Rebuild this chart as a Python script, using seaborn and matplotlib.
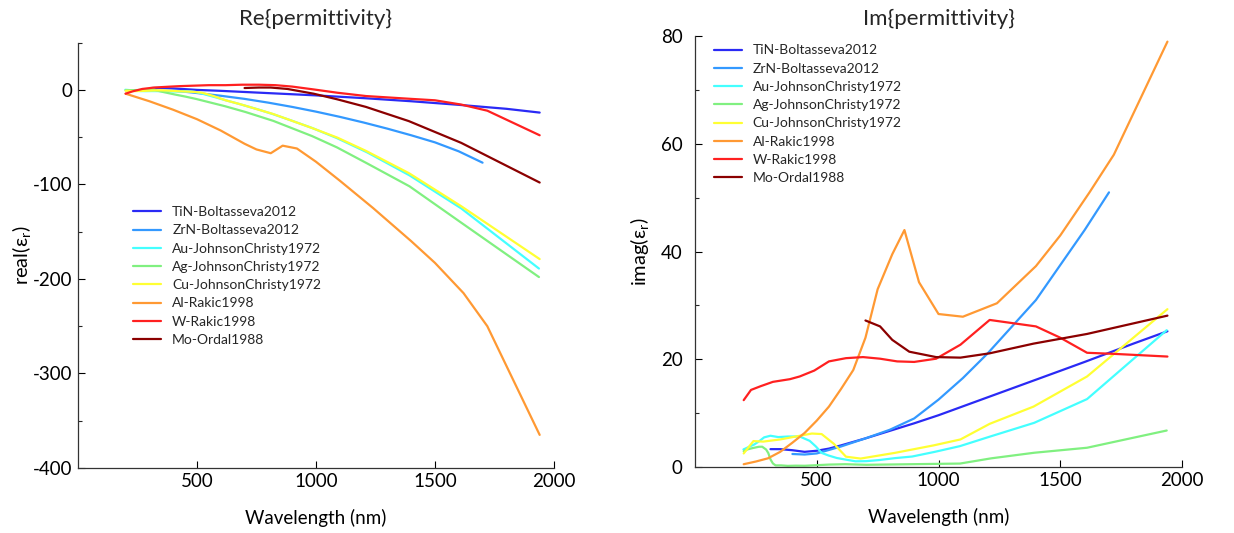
import numpy as np
import pandas as pd
import seaborn as sns
import matplotlib.pyplot as plt
from matplotlib.ticker import MultipleLocator

materials = ["TiN-Boltasseva2012", "ZrN-Boltasseva2012", "Au-JohnsonChristy1972",
             "Ag-JohnsonChristy1972", "Cu-JohnsonChristy1972", "Al-Rakic1998",
             "W-Rakic1998", "Mo-Ordal1988"]
colors = ["#2a2af5", "#3399ff", "#44ffff", "#80f080", "#ffff33", "#ff9933", "#ff2020", "#8b0000"]

# wavelength (nm), real and imaginary permittivity
tin_wl = [310, 350, 400, 450, 500, 550, 600, 700, 800, 900, 1000, 1200, 1400, 1600, 1800, 1940]
tin_re = [2, 2, 1.5, 0.8, 0, -0.5, -1, -2.2, -3.4, -4.6, -5.8, -8.7, -12, -15.8, -20, -24]
tin_im = [3.3, 3.3, 3.1, 2.8, 3.0, 3.4, 4.0, 5.3, 6.7, 8.1, 9.6, 12.9, 16.2, 19.5, 22.9, 25.2]

zrn_wl = [400, 450, 500, 600, 700, 800, 900, 1000, 1100, 1200, 1300, 1400, 1500, 1600, 1700]
zrn_re = [-0.8, -2, -3.3, -6.2, -9.5, -13.5, -18, -23, -28.5, -34.5, -41, -48, -55.5, -65, -77]
zrn_im = [2.4, 2.3, 2.5, 3.8, 5.3, 6.9, 9.0, 12.5, 16.5, 21, 26, 31, 37.5, 44, 51]

au_wl = [199, 212, 226, 243, 262, 284, 310, 342, 381, 430, 471, 496, 521, 549, 582, 617,
         659, 704, 756, 821, 892, 984, 1088, 1216, 1393, 1610, 1937]
au_re = [0.13, -0.13, -0.42, -0.74, -1.24, -1.33, -1.24, -1.31, -1.6, -1.69, -1.7, -2.28,
         -3.95, -5.84, -8.11, -10.7, -13.6, -16.8, -20.6, -25.8, -32.0, -40.3, -51.0,
         -66.2, -90.4, -125.3, -189.0]
au_im = [3.25, 3.51, 3.83, 4.16, 4.72, 5.49, 5.79, 5.54, 5.64, 5.65, 4.84, 3.81, 2.58,
         2.11, 1.66, 1.37, 1.04, 1.07, 1.27, 1.63, 1.93, 2.79, 3.86, 5.7, 8.19, 12.6, 25.4]

ag_wl = [200, 216, 237, 262, 276, 292, 301, 310, 320, 331, 354, 381, 413, 451, 496, 549,
         617, 704, 821, 984, 1088, 1216, 1393, 1610, 1937]
ag_re = [-0.33, -0.3, -0.23, -0.1, 0.22, 0.58, 0.87, 0.9, 0.5, -0.66, -2.0, -3.47, -5.17,
         -7.06, -9.56, -12.9, -17.2, -23.4, -32.8, -48.9, -60.8, -77.9, -102, -140.4, -198]
ag_im = [2.91, 3.26, 3.5, 3.74, 3.75, 3.23, 2.58, 1.39, 0.64, 0.28, 0.28, 0.19, 0.23, 0.21,
         0.31, 0.43, 0.5, 0.39, 0.46, 0.56, 0.62, 1.59, 2.63, 3.56, 6.76]

cu_wl = [200, 240, 280, 350, 420, 480, 520, 570, 620, 680, 820, 980, 1090, 1210, 1390, 1610, 1940]
cu_re = [-0.9, -1.3, -1.0, -0.4, -1.4, -2.0, -2.9, -6.5, -11, -15, -25.5, -40, -50.5,
         -64.5, -88, -123, -179]
cu_im = [2.5, 4.8, 4.7, 5.1, 5.7, 6.2, 6.1, 4.3, 1.9, 1.55, 2.6, 4.0, 5.1, 8.0, 11.2, 16.8, 29.3]

al_wl = [200, 250, 300, 350, 400, 450, 500, 550, 600, 650, 700, 750, 810, 860, 920, 1000,
         1100, 1240, 1400, 1500, 1620, 1720, 1940]
al_re = [-4, -8, -12, -16.5, -21, -26, -31, -37, -43, -50, -57, -63, -67, -59, -62, -76,
         -96, -125, -160, -183, -215, -250, -365]
al_im = [0.5, 1.0, 1.6, 2.8, 4.5, 6.3, 8.6, 11.2, 14.5, 18, 24, 33, 39.5, 44, 34.3, 28.4,
         27.9, 30.4, 37.3, 43, 51, 58, 79]

w_wl = [200, 230, 270, 320, 390, 430, 490, 550, 620, 690, 760, 830, 900, 990, 1090, 1210,
        1400, 1500, 1610, 1720, 1940]
w_re = [-4, -1.5, 1, 2.5, 3.5, 4, 4.5, 5, 5, 5.5, 5.5, 5, 3.5, 0.5, -3, -6.5, -9.5, -11,
        -15.5, -22, -48]
w_im = [12.4, 14.3, 15.0, 15.8, 16.3, 16.8, 17.9, 19.6, 20.2, 20.4, 20.1, 19.6, 19.5, 20.1,
        22.7, 27.3, 26.1, 24, 21.2, 21.0, 20.5]

mo_wl = [700, 760, 810, 880, 990, 1090, 1210, 1390, 1610, 1940]
mo_re = [2, 2.5, 2.5, 1, -4, -10, -18, -33, -56, -98]
mo_im = [27.2, 26.1, 23.6, 21.4, 20.4, 20.3, 21.1, 22.9, 24.7, 28.1]

all_wl = [tin_wl, zrn_wl, au_wl, ag_wl, cu_wl, al_wl, w_wl, mo_wl]
all_re = [tin_re, zrn_re, au_re, ag_re, cu_re, al_re, w_re, mo_re]
all_im = [tin_im, zrn_im, au_im, ag_im, cu_im, al_im, w_im, mo_im]

frames = []
for name, wl, re, im in zip(materials, all_wl, all_re, all_im):
    frames.append(pd.DataFrame({"material": name, "wl": wl, "re": re, "im": im}))
df = pd.concat(frames, ignore_index=True)

sns.set_theme(style="ticks")
plt.rcParams['font.family'] = ['Lato', 'DejaVu Sans']
plt.rcParams['axes.unicode_minus'] = False

fig = plt.figure(figsize=(12.34, 5.33), dpi=100)
ax1 = fig.add_axes([0.0632, 0.122, 0.3857, 0.798])
ax2 = fig.add_axes([0.5632, 0.124, 0.3947, 0.808])

for ax, col in [(ax1, "re"), (ax2, "im")]:
    sns.lineplot(data=df, x="wl", y=col, hue="material", hue_order=materials,
                 palette=colors, estimator=None, sort=False, lw=1.6, ax=ax)
    sns.despine(ax=ax)
    ax.set_xlim(0, 2000)
    ax.set_xticks([500, 1000, 1500, 2000])
    ax.tick_params(direction="in", length=5, width=0.8, labelsize=13.5, colors="black")
    ax.tick_params(which="minor", direction="in", length=3, width=0.8)
    ax.set_xlabel("Wavelength (nm)", fontsize=13.5, color="black", labelpad=14)
    for s in ["left", "bottom"]:
        ax.spines[s].set_color("#333333")
        ax.spines[s].set_linewidth(0.9)

ax1.set_ylim(-400, 50)
ax1.yaxis.set_major_locator(MultipleLocator(100))
ax1.yaxis.set_minor_locator(MultipleLocator(50))
ax1.tick_params(axis="y", pad=4)
ax1.set_ylabel("real(ε$_\\mathregular{r}$)", fontsize=14.5, color="black", labelpad=-1)
ax1.set_title("Re{permittivity}", fontsize=16, pad=13)

ax2.set_ylim(0, 80)
ax2.yaxis.set_major_locator(MultipleLocator(20))
ax2.yaxis.set_minor_locator(MultipleLocator(10))
ax2.tick_params(axis="y", pad=9)
ax2.set_ylabel("imag(ε$_\\mathregular{r}$)", fontsize=14.5, color="black", labelpad=6)
ax2.set_title("Im{permittivity}", fontsize=16, pad=8)

h, l = ax1.get_legend_handles_labels()
ax1.legend(h, l, frameon=False, loc="upper left", bbox_to_anchor=(0.09, 0.645),
           fontsize=10, handlelength=2.0, handletextpad=0.8, labelspacing=0.45)
h, l = ax2.get_legend_handles_labels()
ax2.legend(h, l, frameon=False, loc="upper left", bbox_to_anchor=(0.013, 1.01),
           fontsize=10, handlelength=2.0, handletextpad=0.8, labelspacing=0.45)

fig.savefig("out.png", dpi=100)
